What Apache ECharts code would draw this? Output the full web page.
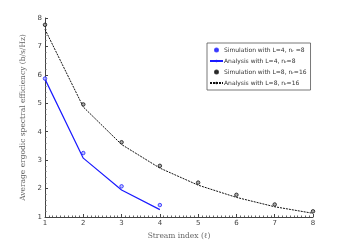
<!DOCTYPE html>
<html><head><meta charset="utf-8">
<script src="https://cdn.jsdelivr.net/npm/echarts@6/dist/echarts.min.js"></script>
<style>html,body{margin:0;padding:0;background:#fff}#c{width:347px;height:245px}</style>
</head><body><div id="c"></div>
<script>
const streamIdx4 = [1, 2, 3, 4];
const streamIdx8 = [1, 2, 3, 4, 5, 6, 7, 8];
const simL4 = [5.87, 3.25, 2.08, 1.42];
const anaL4 = [5.85, 3.07, 1.95, 1.26];
const simL8 = [7.76, 4.96, 3.63, 2.80, 2.21, 1.78, 1.44, 1.20];
const anaL8 = [7.60, 4.87, 3.55, 2.72, 2.12, 1.69, 1.36, 1.13];
const names = ['Simulation with L=4, nᵣ =8', 'Analysis with L=4, nᵣ=8', 'Simulation with L=8, nᵣ=16', 'Analysis with L=8, nᵣ=16'];
const xTicks = [1,2,3,4,5,6,7,8];
const yTicks = [1,2,3,4,5,6,7,8];

const zip = (xs, ys) => xs.map((x, i) => [x, ys[i]]);
const chart = echarts.init(document.getElementById('c'), null, {renderer: 'canvas'});
const axisCommon = {
  axisLine: {lineStyle: {color: '#444', width: 1}},
  axisTick: {inside: true, length: 3, lineStyle: {color: '#444'}},
  minorTick: {show: true, length: 1.5, lineStyle: {color: '#666'}},
  splitLine: {show: false},
  axisLabel: {fontSize: 7, color: '#444', fontFamily: 'DejaVu Sans', margin: 3}
};
chart.setOption({
  animation: false,
  grid: {left: 45, right: 34, top: 18, bottom: 28},
  xAxis: Object.assign({}, axisCommon, {
    type: 'value', min: xTicks[0], max: xTicks[xTicks.length-1], interval: 1,
    minorTick: Object.assign({}, axisCommon.minorTick, {splitNumber: 10}),
    name: 'Stream index (ℓ)', nameLocation: 'middle', nameGap: 15,
    nameTextStyle: {fontSize: 7.5, color: '#666', fontFamily: 'DejaVu Serif'}
  }),
  yAxis: Object.assign({}, axisCommon, {
    type: 'value', min: yTicks[0], max: yTicks[yTicks.length-1], interval: 1,
    minorTick: Object.assign({}, axisCommon.minorTick, {splitNumber: 5}),
    name: 'Average ergodic spectral efficiency (b/s/Hz)', nameLocation: 'middle', nameGap: 11,
    nameTextStyle: {fontSize: 7.5, color: '#666', fontFamily: 'DejaVu Serif'}
  }),
  legend: {
    orient: 'vertical', left: 207, top: 43, width: 93,
    itemGap: 5, itemWidth: 13, itemHeight: 3,
    padding: [4, 4, 4, 2],
    borderColor: '#555', borderWidth: 0.8, backgroundColor: '#fff',
    textStyle: {fontSize: 6, color: '#333', fontFamily: 'DejaVu Sans', padding: [0,0,0,-4]},
    data: [
      {name: names[0], icon: 'circle', itemStyle: {color: '#3333ff'}},
      {name: names[1]},
      {name: names[2], icon: 'circle', itemStyle: {color: '#222'}},
      {name: names[3]}
    ]
  },
  series: [
    {name: names[0], type: 'scatter', data: zip(streamIdx4, simL4), symbol: 'circle', symbolSize: 3.5,
     itemStyle: {color: '#aab0ff', borderColor: '#2222ff', borderWidth: 1}, z: 5},
    {name: names[1], type: 'line', data: zip(streamIdx4, anaL4), showSymbol: false, symbol: 'none',
     lineStyle: {color: '#1a1aff', width: 1.2}, itemStyle: {color: '#1a1aff'}},
    {name: names[2], type: 'scatter', data: zip(streamIdx8, simL8), symbol: 'circle', symbolSize: 3.5,
     itemStyle: {color: '#999', borderColor: '#111', borderWidth: 1}, z: 5},
    {name: names[3], type: 'line', data: zip(streamIdx8, anaL8), showSymbol: false, symbol: 'none',
     lineStyle: {color: '#111', width: 1, type: [2, 1]}, itemStyle: {color: '#111'}}
  ]
});
</script></body></html>
